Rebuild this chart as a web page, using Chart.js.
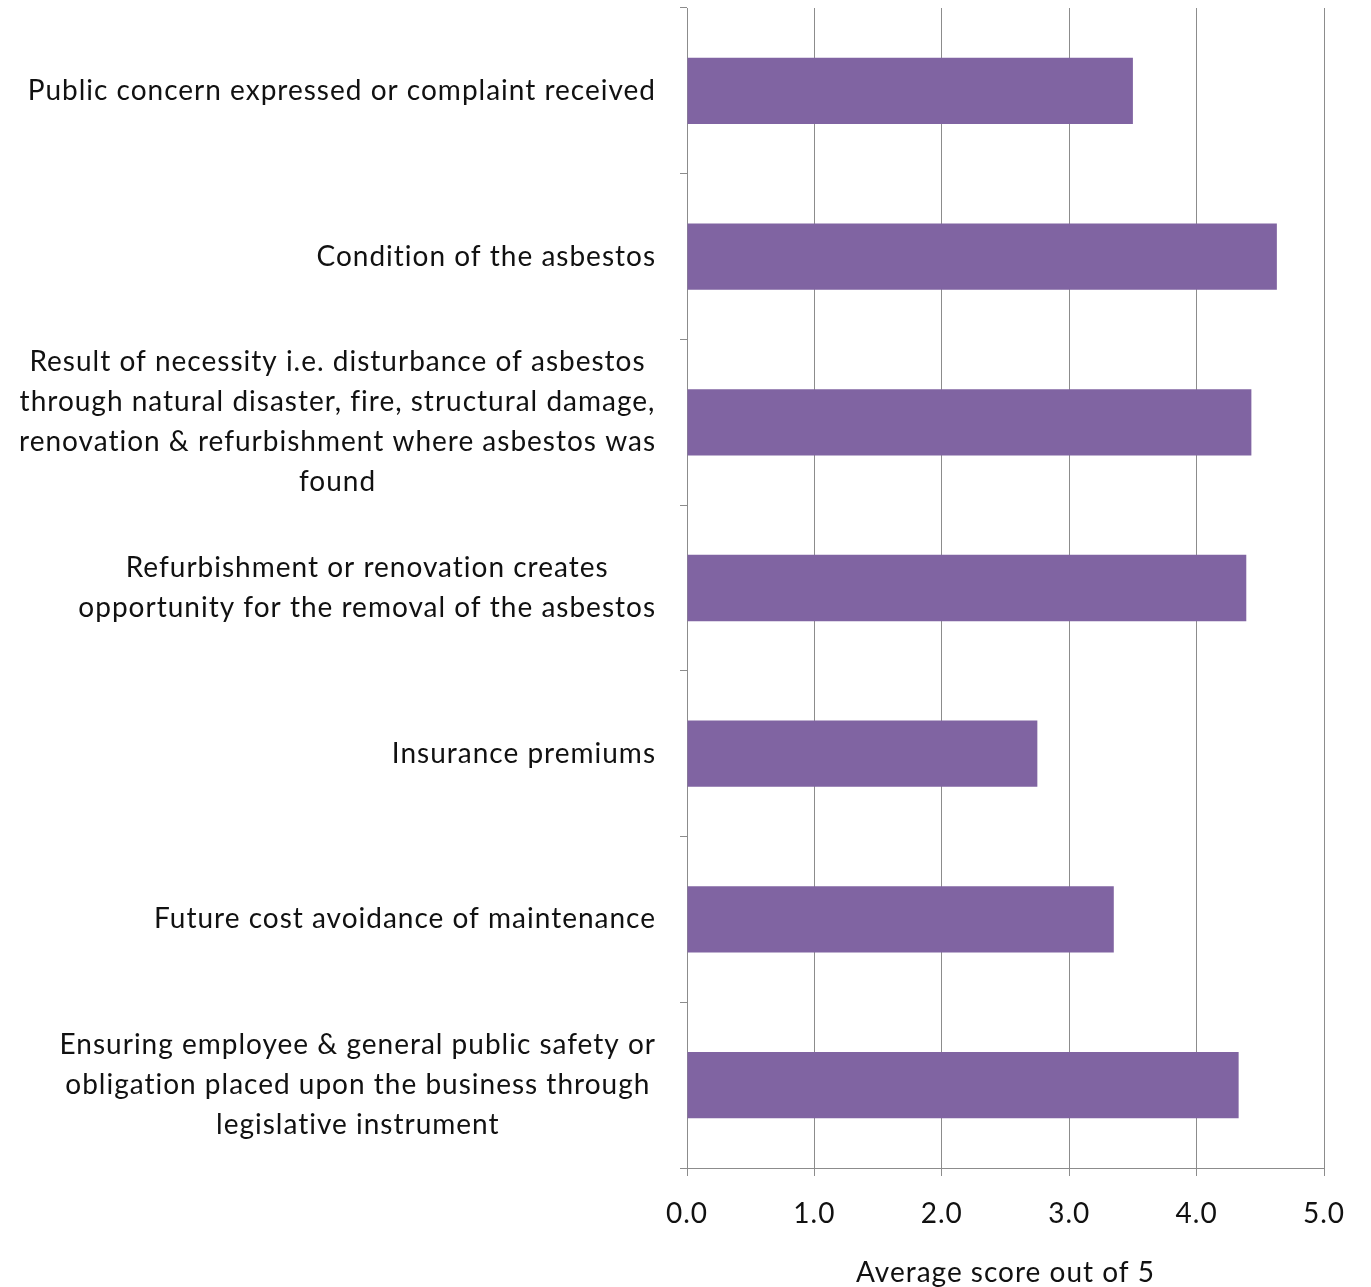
<!DOCTYPE html>
<html>
<head>
<meta charset="utf-8">
<script src="https://cdn.jsdelivr.net/npm/chart.js@4.4.1/dist/chart.umd.min.js"></script>
<style>
  body { margin: 0; background: #fff; }
  #wrap { width: 1371px; height: 1287px; }
</style>
</head>
<body>
<div id="wrap"><canvas id="chart"></canvas></div>
<script>
// categories (multi-line, as in the original), top to bottom
const categories = [
  ['Public concern expressed or complaint received'],
  ['Condition of the asbestos'],
  ['Result of necessity i.e. disturbance of asbestos',
   'through natural disaster, fire, structural damage,',
   'renovation & refurbishment where asbestos was',
   'found'],
  ['Refurbishment or renovation creates',
   'opportunity for the removal of the asbestos'],
  ['Insurance premiums'],
  ['Future cost avoidance of maintenance'],
  ['Ensuring employee & general public safety or',
   'obligation placed upon the business through',
   'legislative instrument']
];
const scores = [3.50, 4.63, 4.43, 4.39, 2.75, 3.35, 4.33];
const xTicks = [0, 1, 2, 3, 4, 5];
const axisTitle = 'Average score out of 5';

const FONT_FAMILY = 'Lato, "Noto Sans", sans-serif';
const FONT_SIZE = 28;
const TEXT = '#111';
const GRID = '#8c8c8c';

// slightly looser text, closer to the original rendering
const spacing = {
  id: 'spacing',
  beforeDraw(chart) { chart.ctx.letterSpacing = '1px'; }
};

// category labels: block right-aligned to the axis, lines centred inside the block
const categoryLabels = {
  id: 'categoryLabels',
  afterDraw(chart) {
    const ctx = chart.ctx;
    const y = chart.scales.y;
    ctx.save();
    ctx.font = FONT_SIZE + 'px ' + FONT_FAMILY;
    ctx.letterSpacing = '1px';
    ctx.fillStyle = TEXT;
    ctx.textAlign = 'center';
    ctx.textBaseline = 'middle';
    categories.forEach((lines, i) => {
      const w = Math.max(...lines.map(l => ctx.measureText(l).width));
      const cx = y.right - 31 - w / 2;
      const cy = y.getPixelForTick(i);
      lines.forEach((l, j) => {
        ctx.fillText(l, cx, cy + (j - (lines.length - 1) / 2) * 40);
      });
    });
    ctx.restore();
  }
};

const ctx = document.getElementById('chart').getContext('2d');
new Chart(ctx, {
  type: 'bar',
  data: {
    labels: categories.map(c => c.join(' ')),
    datasets: [{
      data: scores,
      backgroundColor: '#8064a2',
      borderWidth: 0,
      barPercentage: 0.4,
      categoryPercentage: 1
    }]
  },
  options: {
    indexAxis: 'y',
    responsive: true,
    maintainAspectRatio: false,
    animation: false,
    layout: { padding: { top: 8, right: 47, left: 0, bottom: 0 } },
    plugins: {
      legend: { display: false },
      tooltip: { enabled: false }
    },
    scales: {
      x: {
        min: 0,
        max: 5,
        afterBuildTicks: s => { s.ticks = xTicks.map(v => ({ value: v })); },
        afterFit: s => { s.height = 119; },
        grid: { color: GRID, lineWidth: 1, tickLength: 8 },
        border: { color: GRID, width: 1 },
        ticks: {
          padding: 21,
          color: TEXT,
          font: { family: FONT_FAMILY, size: FONT_SIZE },
          callback: v => v.toFixed(1)
        },
        title: {
          display: true,
          text: axisTitle,
          color: TEXT,
          padding: { top: 0, bottom: 0 },
          font: { family: FONT_FAMILY, size: FONT_SIZE, lineHeight: 1 }
        }
      },
      y: {
        afterFit: s => { s.width = 687; },
        grid: { offset: true, drawOnChartArea: false, color: GRID, tickLength: 7 },
        border: { color: GRID, width: 1 },
        ticks: { display: false }
      }
    }
  },
  plugins: [spacing, categoryLabels]
});
</script>
</body>
</html>
